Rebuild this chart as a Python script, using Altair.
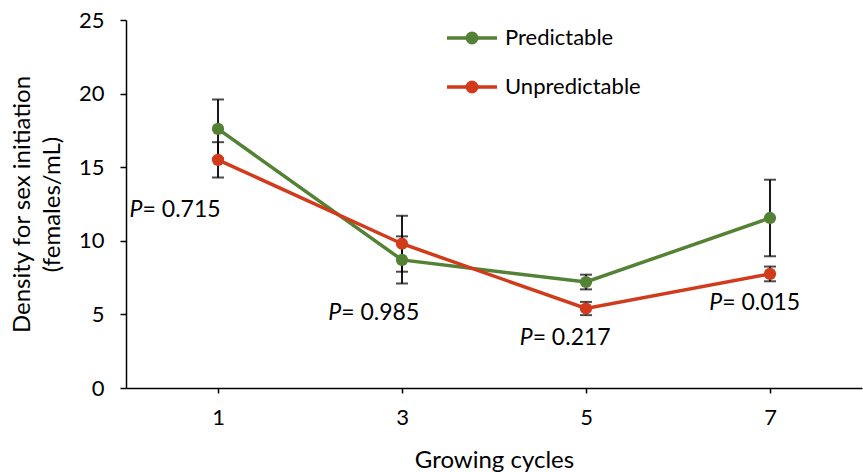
import altair as alt
import pandas as pd

# Growing cycles and mean density (females/mL) with standard errors
cycles = [1, 3, 5, 7]
predictable = [17.6, 8.7, 7.2, 11.55]
predictable_err = [2.0, 1.6, 0.5, 2.6]
unpredictable = [15.5, 9.8, 5.4, 7.75]
unpredictable_err = [1.2, 1.9, 0.45, 0.5]

# P-value annotations and where they sit (data units)
p_values = ["0.715", "0.985", "0.217", "0.015"]
p_x = [0.18, 2.34, 4.42, 6.48]
p_y = [12.1, 5.1, 3.4, 5.77]

series_names = ["Predictable", "Unpredictable"]
series_colors = ["#548235", "#d23a1c"]

rows = []
for name, means, errs in [("Predictable", predictable, predictable_err),
                          ("Unpredictable", unpredictable, unpredictable_err)]:
    for c, m, e in zip(cycles, means, errs):
        rows.append({"cycle": c, "density": m, "lo": m - e, "hi": m + e, "series": name})
df = pd.DataFrame(rows)

ann = pd.DataFrame({"x": p_x, "y": p_y, "text": ["= " + v for v in p_values]})

FONT = "Lato"

x_enc = alt.X(
    "cycle:Q",
    scale=alt.Scale(domain=[0, 8], nice=False, zero=False),
    axis=alt.Axis(values=cycles, title="Growing cycles", tickSize=5,
                  labelPadding=14, titlePadding=20, format="d"),
)
y_enc = alt.Y(
    "density:Q",
    scale=alt.Scale(domain=[0, 25], nice=False),
    axis=alt.Axis(values=[0, 5, 10, 15, 20, 25],
                  title=["Density for sex initiation", "(females/mL)"],
                  tickSize=6, labelPadding=16, titlePadding=14),
)

base = alt.Chart(df)

err_rules = base.mark_rule(color="black", strokeWidth=1.8).encode(
    x=alt.X("cycle:Q"), y=alt.Y("lo:Q"), y2="hi:Q"
)
err_hi = base.mark_tick(color="black", thickness=2, size=12, orient="horizontal").encode(
    x=alt.X("cycle:Q"), y=alt.Y("hi:Q")
)
err_lo = base.mark_tick(color="black", thickness=2, size=12, orient="horizontal").encode(
    x=alt.X("cycle:Q"), y=alt.Y("lo:Q")
)

color_scale = alt.Scale(domain=series_names, range=series_colors)

# legend symbol: a short line with a solid dot (concentric rings) in the middle
legend_symbol = ("M-1,0L1,0"
                 "M-0.19,0A0.19,0.19,0,1,0,0.19,0A0.19,0.19,0,1,0,-0.19,0Z"
                 "M-0.09,0A0.09,0.09,0,1,0,0.09,0A0.09,0.09,0,1,0,-0.09,0Z"
                 "M-0.02,0A0.02,0.02,0,1,0,0.02,0A0.02,0.02,0,1,0,-0.02,0Z")
leg = alt.Legend(title=None, orient="none", legendX=319, legendY=-9,
                 symbolType=legend_symbol, symbolSize=2500, symbolStrokeWidth=3.5,
                 labelFontSize=22, labelOffset=6, rowPadding=10, padding=0,
                 labelFont=FONT, labelColor="black")

lines = base.mark_line(strokeWidth=3.5).encode(
    x=x_enc, y=y_enc,
    color=alt.Color("series:N", scale=color_scale, legend=leg),
)

points = base.mark_point(filled=True, size=150, opacity=1).encode(
    x=alt.X("cycle:Q"), y=alt.Y("density:Q"),
    fill=alt.Fill("series:N", scale=color_scale, legend=leg),
)

p_italic = alt.Chart(ann).mark_text(
    text="P", fontStyle="italic", fontSize=23, font=FONT, align="right",
    baseline="middle", color="black"
).encode(x="x:Q", y="y:Q")
p_rest = alt.Chart(ann).mark_text(
    fontSize=23, font=FONT, align="left", baseline="middle", color="black"
).encode(x="x:Q", y="y:Q", text="text:N")

chart = alt.layer(
    err_rules, err_hi, err_lo, lines, points, p_italic, p_rest
).properties(
    width=736, height=368,
    autosize=alt.AutoSizeParams(type="none"),
    padding={"left": 126, "top": 20, "right": 1, "bottom": 84},
).configure_view(
    stroke=None
).configure_axis(
    grid=False, domainColor="black", domainWidth=1.5, tickColor="black",
    tickWidth=1.5, labelColor="black", titleColor="black", labelFont=FONT,
    titleFont=FONT, labelFontSize=22, titleFontSize=24, titleFontWeight="normal",
    titleLineHeight=30,
).configure_legend(
    symbolType=legend_symbol
)

chart.save("out.html", embed_options={"renderer": "svg", "actions": False})
